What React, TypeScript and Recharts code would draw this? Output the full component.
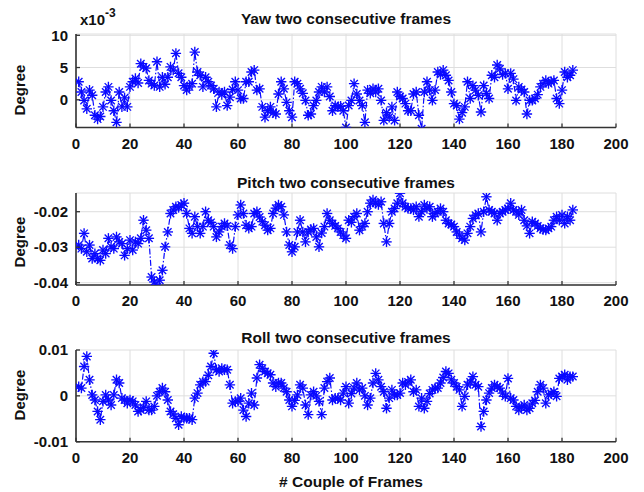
import React from 'react';
import { LineChart, Line, XAxis, YAxis, CartesianGrid } from 'recharts';

// Angular change between two consecutive frames, one value per frame pair.
// Yaw is stored in units of 1e-3 degree (the axis carries the x10^-3 factor).
const yawDeg = [
  2.8, 1.2, -0.1, -1.4, 1.5, 0.7, -2.4, -3.0, -2.6, -1.1,
  1.2, 2.0, -0.1, -1.7, -3.5, 1.2, -1.1, 0.3, -1.1, 2.0,
  2.8, 3.3, 2.6, 5.6, 5.1, 4.9, 3.0, 2.5, 2.2, 5.9,
  2.0, 3.5, 2.4, 3.5, 5.1, 4.6, 7.2, 4.1, 3.5, 2.2,
  1.5, 2.0, 2.5, 7.4, 4.3, 3.8, 2.0, 3.5, 2.8, 2.2,
  1.7, -1.1, 1.2, 0.8, 1.2, -0.9, 0.4, 1.6, 2.8, 1.5,
  0.2, 0.2, 2.8, 2.8, 4.3, 4.6, 1.5, 1.7, -1.1, -2.7,
  -1.7, -1.1, -2.0, -2.2, 0.9, 2.8, 1.7, -0.4, -1.7, -2.7,
  2.8, 2.5, 1.7, 1.0, -0.1, -2.4, -2.2, -0.9, -0.1, 1.2,
  2.0, 1.2, 2.0, 0.5, -1.7, -0.9, -1.1, -1.0, -1.7, -4.3,
  -0.9, -0.1, 2.5, 0.9, -0.1, -0.9, -3.5, 1.5, 1.0, 1.7,
  1.2, 1.7, -0.1, -3.2, -2.0, -2.7, -1.1, -3.2, 1.2, 0.5,
  0.2, -0.6, -1.7, -1.7, 0.9, 1.2, -2.4, -4.5, 1.2, 2.8,
  1.5, -0.1, 1.5, 4.3, 3.9, 4.6, 3.8, 3.0, 1.2, -0.6,
  -0.9, -3.0, -2.0, -1.1, 2.8, 0.2, 2.2, 1.5, 0.7, -1.9,
  2.2, 1.0, 0.2, 3.8, 3.5, 5.4, 4.8, 3.9, 4.1, 1.7,
  4.1, 3.2, -0.1, 2.0, 1.6, 1.2, -2.2, -0.1, -0.1, 0.2,
  0.8, 2.0, 2.5, 3.0, 2.5, 2.8, 3.0, 0.2, -0.6, 1.5,
  4.3, 3.5, 3.8, 4.6,
];

const pitchDeg = [
  -0.0294, -0.0304, -0.0261, -0.0313, -0.0294, -0.0332, -0.0318, -0.0332, -0.0337, -0.0308,
  -0.0318, -0.0275, -0.0299, -0.0304, -0.0271, -0.0285, -0.029, -0.0323, -0.0304, -0.028,
  -0.0308, -0.0285, -0.029, -0.0275, -0.0224, -0.0252, -0.0275, -0.0384, -0.0398, -0.0412,
  -0.0393, -0.0365, -0.0299, -0.0257, -0.0205, -0.0195, -0.0186, -0.0188, -0.0181, -0.0176,
  -0.0205, -0.0247, -0.0261, -0.0214, -0.0242, -0.0261, -0.0242, -0.02, -0.0224, -0.023,
  -0.0242, -0.0271, -0.0257, -0.0242, -0.0233, -0.024, -0.0294, -0.0304, -0.0242, -0.0209,
  -0.0181, -0.0205, -0.0238, -0.0247, -0.0242, -0.0205, -0.02, -0.0215, -0.0228, -0.0238,
  -0.0252, -0.0247, -0.0205, -0.019, -0.0181, -0.0186, -0.0209, -0.0257, -0.0294, -0.0313,
  -0.0299, -0.0257, -0.0224, -0.0257, -0.0285, -0.0257, -0.025, -0.0247, -0.0271, -0.0299,
  -0.026, -0.0242, -0.0205, -0.0224, -0.0233, -0.024, -0.0247, -0.0257, -0.0266, -0.0275,
  -0.0224, -0.023, -0.0214, -0.0205, -0.0252, -0.0242, -0.0233, -0.02, -0.0176, -0.0167,
  -0.0176, -0.018, -0.0172, -0.0233, -0.0285, -0.0233, -0.02, -0.0191, -0.0176, -0.0148,
  -0.0176, -0.0186, -0.0191, -0.0191, -0.0195, -0.0186, -0.0214, -0.02, -0.0181, -0.0191,
  -0.0186, -0.0214, -0.0205, -0.02, -0.0191, -0.02, -0.0224, -0.0233, -0.0236, -0.0242,
  -0.0257, -0.0266, -0.0275, -0.028, -0.0261, -0.0242, -0.0219, -0.021, -0.0205, -0.0257,
  -0.02, -0.0158, -0.0195, -0.02, -0.0205, -0.0224, -0.0205, -0.02, -0.0195, -0.0191,
  -0.0176, -0.0195, -0.02, -0.0209, -0.0195, -0.0224, -0.024, -0.0261, -0.0228, -0.0233,
  -0.024, -0.0247, -0.025, -0.0252, -0.0247, -0.0242, -0.0224, -0.0214, -0.0224, -0.0209,
  -0.0233, -0.0214, -0.0224, -0.0195,
];

const rollDeg = [
  0.002, 0.0017, 0.0064, 0.0086, 0.0035, 0.0002, -0.0009, -0.0034, -0.0052, -0.0012,
  0.0002, -0.0009, -0.002, 0.0002, 0.0035, 0.0028, -0.0005, -0.0009, -0.0016, -0.0009,
  -0.0012, -0.002, -0.0034, -0.0031, -0.0025, -0.0012, -0.0031, -0.0031, -0.0023, 0.0,
  0.0009, 0.0017, 0.0009, -0.0009, -0.0034, -0.004, -0.0049, -0.0063, -0.0045, -0.0049,
  -0.0049, -0.0049, -0.0052, -0.0005, 0.0006, 0.0024, 0.0031, 0.0031, 0.0045, 0.0064,
  0.0093, 0.0057, 0.0053, 0.006, 0.0057, 0.0057, 0.0024, -0.0016, -0.0012, -0.0012,
  -0.0005, -0.0031, -0.0045, -0.0016, 0.0006, -0.002, 0.0039, 0.0068, 0.006, 0.0053,
  0.0049, 0.0046, 0.0028, 0.002, 0.0028, 0.0028, 0.0017, 0.0009, -0.0009, -0.0023,
  -0.001, 0.0002, 0.0024, 0.0017, -0.002, -0.0041, 0.0002, 0.0009, 0.0, -0.0012,
  -0.0041, 0.0017, 0.0031, 0.0039, -0.0009, -0.0005, -0.0005, -0.0009, 0.0006, 0.002,
  -0.0016, 0.0005, 0.0017, 0.0028, 0.0013, 0.0017, 0.0, -0.002, -0.0005, 0.0028,
  0.0049, 0.0035, 0.002, 0.0009, -0.0027, -0.0005, 0.0013, 0.0002, 0.0002, 0.0006,
  0.0028, 0.0024, 0.003, 0.0035, 0.0009, 0.0013, -0.0023, -0.0005, -0.0027, -0.0012,
  0.0005, 0.0013, 0.0017, 0.0017, 0.0028, 0.004, 0.0053, 0.0049, 0.0035, 0.0028,
  0.002, 0.0013, -0.0023, -0.0001, 0.0024, 0.003, 0.0042, 0.0024, 0.002, -0.0067,
  -0.0034, -0.0009, 0.0006, 0.0017, 0.0024, 0.002, 0.0017, 0.0006, -0.0001, 0.0038,
  -0.0005, -0.0009, -0.0023, -0.0031, -0.0025, -0.002, -0.0031, -0.0027, -0.0016, -0.001,
  0.0009, 0.0024, 0.0017, -0.0016, 0.0002, 0.0005, 0.0009, -0.0001, 0.0038, 0.0042,
  0.0046, 0.0035, 0.0042, 0.0042,
];

const frameTicks = [0, 20, 40, 60, 80, 100, 120, 140, 160, 180, 200];
const yawTicks = [0, 5, 10];
const pitchTicks = [-0.04, -0.03, -0.02];
const rollTicks = [-0.01, 0, 0.01];

const titles = ['Yaw two consecutive frames', 'Pitch two consecutive frames', 'Roll two consecutive frames'];

const toRows = (values: number[]) => values.map((v, i) => ({ frame: i + 1, value: v }));

const FONT = '"Liberation Sans", Arial, Helvetica, sans-serif';
const BLUE = '#0a0aff';
const AXIS = '#333333';
const GRID = '#dedede';
const W = 644;

// MATLAB-style '*' marker
const Asterisk = (props: any) => {
  const { cx, cy, index } = props;
  if (cx == null || cy == null) return null;
  const r = 5.2;
  const d = r * 0.72;
  return (
    <g key={`m-${index}`} stroke={BLUE} strokeWidth={1.35}>
      <line x1={cx - r} y1={cy} x2={cx + r} y2={cy} />
      <line x1={cx} y1={cy - r} x2={cx} y2={cy + r} />
      <line x1={cx - d} y1={cy - d} x2={cx + d} y2={cy + d} />
      <line x1={cx - d} y1={cy + d} x2={cx + d} y2={cy - d} />
    </g>
  );
};

// Bottom tick: short inward mark plus label
const XTick = (props: any) => {
  const { x, y, payload } = props;
  return (
    <g>
      <line x1={x} y1={y} x2={x} y2={y - 4} stroke={AXIS} strokeWidth={1.3} />
      <text x={x} y={y + 21} textAnchor="middle" fontFamily={FONT} fontWeight="bold" fontSize={15} fill="#111">
        {payload.value}
      </text>
    </g>
  );
};

// Left tick: short inward mark plus right-aligned label
const YTick = (props: any) => {
  const { x, y, payload } = props;
  return (
    <g>
      <line x1={x} y1={y} x2={x + 4} y2={y} stroke={AXIS} strokeWidth={1.3} />
      <text x={x - 8} y={y} dy="0.35em" textAnchor="end" fontFamily={FONT} fontWeight="bold" fontSize={15} fill="#111">
        {String(payload.value)}
      </text>
    </g>
  );
};

type PanelProps = {
  top: number;
  height: number;
  marginTop: number;
  xAxisHeight: number;
  domain: [number, number];
  ticks: number[];
  values: number[];
};

const Panel = ({ top, height, marginTop, xAxisHeight, domain, ticks, values }: PanelProps) => (
  <div style={{ position: 'absolute', left: 0, top, width: W, height }}>
    <LineChart
      width={W}
      height={height}
      data={toRows(values)}
      margin={{ top: marginTop, right: 28, bottom: 0, left: 6 }}
    >
      <CartesianGrid stroke={GRID} strokeWidth={1} />
      <XAxis
        dataKey="frame"
        type="number"
        domain={[0, 200]}
        ticks={frameTicks}
        interval={0}
        height={xAxisHeight}
        tickSize={0}
        tickMargin={0}
        tick={<XTick />}
        axisLine={{ stroke: AXIS, strokeWidth: 1.6 }}
        tickLine={false}
        allowDataOverflow
      />
      <YAxis
        type="number"
        domain={domain}
        ticks={ticks}
        interval={0}
        width={70}
        tickSize={0}
        tickMargin={0}
        tick={<YTick />}
        axisLine={{ stroke: AXIS, strokeWidth: 1.6 }}
        tickLine={false}
        allowDataOverflow
      />
      <Line
        type="linear"
        dataKey="value"
        stroke={BLUE}
        strokeWidth={1.2}
        strokeDasharray="6 2 1.5 2"
        dot={<Asterisk />}
        activeDot={false}
        isAnimationActive={false}
      />
    </LineChart>
  </div>
);

const textStyle = { fontFamily: FONT, fontWeight: 'bold' as const, fill: '#111' };

export default function App() {
  return (
    <div style={{ position: 'absolute', left: 0, top: 0, width: W, height: 492, background: '#fff', overflow: 'hidden' }}>
      <Panel top={0} height={160} marginTop={34} xAxisHeight={32.5} domain={[-4.3, 10.2]} ticks={yawTicks} values={yawDeg} />
      <Panel top={160} height={160} marginTop={33} xAxisHeight={35} domain={[-0.04065, -0.01473]} ticks={pitchTicks} values={pitchDeg} />
      <Panel top={320} height={172} marginTop={30} xAxisHeight={50.3} domain={[-0.01, 0.01]} ticks={rollTicks} values={rollDeg} />
      <svg width={W} height={492} style={{ position: 'absolute', left: 0, top: 0, pointerEvents: 'none' }}>
        <text x={346} y={24} textAnchor="middle" fontSize={15.5} {...textStyle}>{titles[0]}</text>
        <text x={346} y={188} textAnchor="middle" fontSize={15.5} {...textStyle}>{titles[1]}</text>
        <text x={346} y={343} textAnchor="middle" fontSize={15.5} {...textStyle}>{titles[2]}</text>
        <text x={351} y={487} textAnchor="middle" fontSize={15.5} {...textStyle}># Couple of Frames</text>
        <text x={80} y={25} fontSize={15} {...textStyle}>
          x10<tspan fontSize={12} dy={-8}>-3</tspan>
        </text>
        <text transform="translate(25,90) rotate(-90)" textAnchor="middle" fontSize={15} {...textStyle}>Degree</text>
        <text transform="translate(25,242) rotate(-90)" textAnchor="middle" fontSize={15} {...textStyle}>Degree</text>
        <text transform="translate(25,395) rotate(-90)" textAnchor="middle" fontSize={15} {...textStyle}>Degree</text>
      </svg>
    </div>
  );
}
